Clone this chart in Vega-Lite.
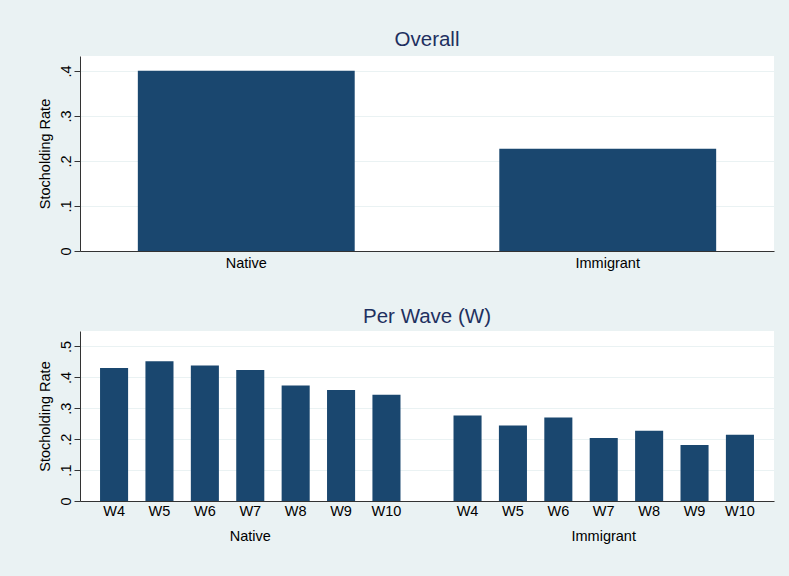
{
  "$schema": "https://vega.github.io/schema/vega-lite/v6.json",
  "background": "#EAF2F3",
  "padding": {"left": 37, "top": 29, "right": 20, "bottom": 35},
  "spacing": 36,
  "config": {
    "view": {"fill": "white", "stroke": null},
    "font": "Liberation Sans",
    "axis": {
      "labelFont": "Liberation Sans", "labelFontSize": 14.5, "labelColor": "#000",
      "titleFont": "Liberation Sans", "titleFontSize": 14.5, "titleFontWeight": "normal", "titleColor": "#000",
      "domainColor": "#333", "tickColor": "#333", "gridColor": "#EAF2F3", "gridWidth": 1
    },
    "axisX": {"ticks": false, "tickSize": 0, "labelPadding": 5, "labelAngle": 0, "grid": false, "domainWidth": 1.2},
    "axisY": {"labelAngle": -90, "labelAlign": "center", "labelBaseline": "bottom", "tickSize": 6, "labelPadding": 1, "titlePadding": 6, "grid": true},
    "title": {"fontSize": 20.5, "font": "Liberation Sans", "fontWeight": "normal", "color": "#1E3060", "anchor": "middle", "offset": 6, "frame": "group"}
  },
  "vconcat": [
    {
      "title": {"text": "Overall"},
      "width": 694,
      "height": 195,
      "data": {"values": [
        {"group": "Native", "rate": 0.400},
        {"group": "Immigrant", "rate": 0.227}
      ]},
      "mark": {"type": "bar", "color": "#1A476F"},
      "encoding": {
        "x": {"field": "group", "type": "nominal", "sort": ["Native", "Immigrant"],
              "scale": {"paddingInner": 0.4, "paddingOuter": 0.16}, "axis": {"title": null}},
        "y": {"field": "rate", "type": "quantitative",
              "scale": {"domain": [0, 0.433], "nice": false},
              "axis": {"title": "Stocholding Rate", "values": [0, 0.1, 0.2, 0.3, 0.4],
                       "labelExpr": "datum.value == 0 ? '0' : replace(format(datum.value, '.1f'), '0.', '.')"}}
      }
    },
    {
      "title": {"text": "Per Wave (W)", "offset": 4},
      "width": 694,
      "height": 170,
      "data": {"values": [
        {"group": "Native", "wave": "W4", "rate": 0.430},
        {"group": "Native", "wave": "W5", "rate": 0.452},
        {"group": "Native", "wave": "W6", "rate": 0.438},
        {"group": "Native", "wave": "W7", "rate": 0.424},
        {"group": "Native", "wave": "W8", "rate": 0.374},
        {"group": "Native", "wave": "W9", "rate": 0.359},
        {"group": "Native", "wave": "W10", "rate": 0.344},
        {"group": "Immigrant", "wave": "W4", "rate": 0.277},
        {"group": "Immigrant", "wave": "W5", "rate": 0.244},
        {"group": "Immigrant", "wave": "W6", "rate": 0.270},
        {"group": "Immigrant", "wave": "W7", "rate": 0.204},
        {"group": "Immigrant", "wave": "W8", "rate": 0.227},
        {"group": "Immigrant", "wave": "W9", "rate": 0.181},
        {"group": "Immigrant", "wave": "W10", "rate": 0.214}
      ]},
      "encoding": {
        "x": {"field": "group", "type": "nominal", "sort": ["Native", "Immigrant"],
              "scale": {"paddingInner": 0.15, "paddingOuter": 0.0567},
              "axis": {"title": null, "labelPadding": 28}},
        "xOffset": {"field": "wave", "type": "ordinal", "sort": ["W4", "W5", "W6", "W7", "W8", "W9", "W10"],
                    "scale": {"paddingInner": 0.382, "paddingOuter": 0}},
        "y": {"field": "rate", "type": "quantitative",
              "scale": {"domain": [0, 0.55], "nice": false},
              "axis": {"title": "Stocholding Rate", "values": [0, 0.1, 0.2, 0.3, 0.4, 0.5],
                       "labelExpr": "datum.value == 0 ? '0' : replace(format(datum.value, '.1f'), '0.', '.')"}}
      },
      "layer": [
        {"mark": {"type": "bar", "color": "#1A476F"}},
        {"mark": {"type": "text", "baseline": "top", "dy": 4, "fontSize": 14.5, "font": "Liberation Sans", "color": "#000"},
         "encoding": {"y": {"datum": 0}, "text": {"field": "wave"}}}
      ]
    }
  ]
}
